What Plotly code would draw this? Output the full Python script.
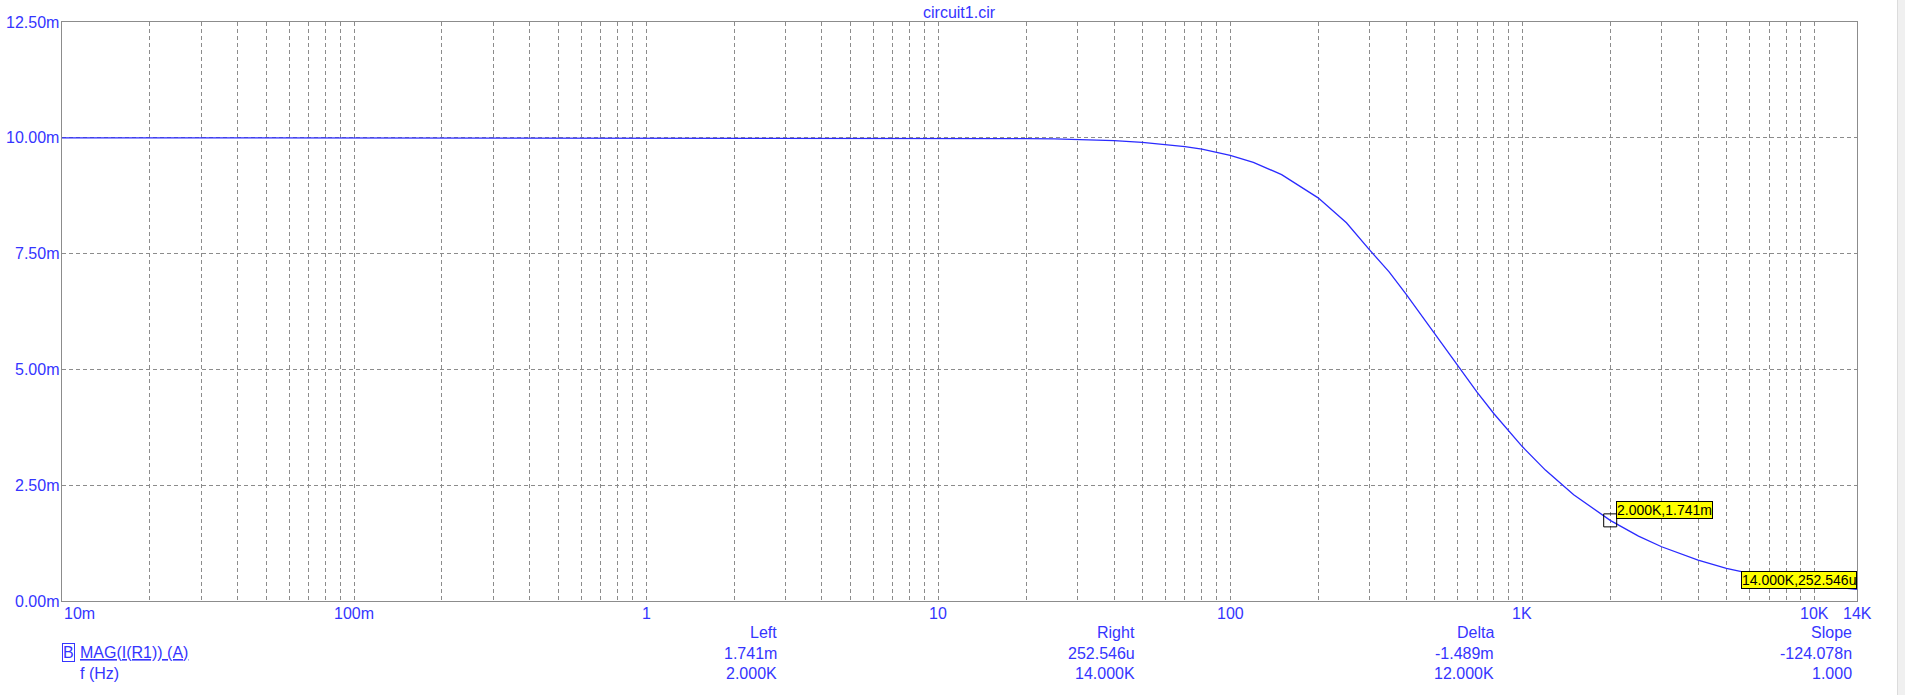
import math
import plotly.graph_objects as go

# ---------------- data ----------------
freq_hz = [0.01, 10, 20, 25, 30, 40, 50, 60, 70, 80, 100, 120, 150, 200, 250, 300,
           350, 400, 500, 600, 700, 800, 1000, 1200, 1500, 2000, 2500, 3000, 4000,
           5000, 6000, 7000, 8000, 10000, 12000, 14000]
current_a = [0.010000, 0.009996, 0.009984, 0.009975, 0.009964, 0.009937, 0.009901,
             0.009859, 0.009810, 0.009754, 0.009623, 0.009469, 0.009206, 0.008704,
             0.008165, 0.007580, 0.007107, 0.006623, 0.005775, 0.005077, 0.004508,
             0.004042, 0.003334, 0.002826, 0.002294, 0.001741, 0.001400, 0.001171,
             0.0008805, 0.0007054, 0.0005884, 0.0005045, 0.0004416, 0.0003534,
             0.0002946, 0.0002525]

x_tick_vals = [0.01, 0.1, 1, 10, 100, 1000, 10000, 14000]
x_tick_text = ["10m", "100m", "1", "10", "100", "1K", "10K", "14K"]
y_tick_vals = [0.0, 0.0025, 0.005, 0.0075, 0.01, 0.0125]
y_tick_text = ["0.00m", "2.50m", "5.00m", "7.50m", "10.00m", "12.50m"]

cursor_left = (2000, 0.001741)
cursor_right = (14000, 0.000252546)
cursor_left_label = "2.000K,1.741m"
cursor_right_label = "14.000K,252.546u"

table_headers = ["Left", "Right", "Delta", "Slope"]
table_mag = ["1.741m", "252.546u", "-1.489m", "-124.078n"]
table_freq = ["2.000K", "14.000K", "12.000K", "1.000"]
trace_name = "MAG(I(R1)) (A)"
x_name = "f (Hz)"
title_text = "circuit1.cir"

# ---------------- style ----------------
FONT = "Liberation Sans, Arial, sans-serif"
BLUE_TXT = "#3535ff"
BLUE_LINE = "#2a2aff"
GRID = "#8c8c8c"
W, H = 1905, 695
L, R, T, B = 62, 48, 22, 94
PW, PH = W - L - R, H - T - B


def px_x(px):
    return (px - L) / PW


def px_y(py):
    return (T + PH - py) / PH


fig = go.Figure()
fig.add_trace(go.Scatter(x=freq_hz, y=current_a, mode="lines",
                         line=dict(color=BLUE_LINE, width=1.3),
                         hoverinfo="skip", showlegend=False))
fig.add_trace(go.Scatter(x=[cursor_left[0]], y=[cursor_left[1]], mode="markers",
                         marker=dict(symbol="square-open", size=13, color="black",
                                     line=dict(width=1, color="black")),
                         hoverinfo="skip", showlegend=False))

ann = []
# y tick labels
for v, t in zip(y_tick_vals, y_tick_text):
    ann.append(dict(x=0, xref="paper", y=v, yref="y", text=t, showarrow=False,
                    xanchor="right", yanchor="middle", xshift=-1,
                    font=dict(family=FONT, size=16, color=BLUE_TXT)))
# x tick labels
for i, (v, t) in enumerate(zip(x_tick_vals, x_tick_text)):
    ann.append(dict(x=math.log10(v), xref="x", y=px_y(613), yref="paper", text=t,
                    showarrow=False, xanchor="left" if i == 0 else "center",
                    yanchor="middle",
                    font=dict(family=FONT, size=16, color=BLUE_TXT)))
# title
ann.append(dict(x=0.5, xref="paper", y=px_y(13), yref="paper", text=title_text,
                showarrow=False, xanchor="center", yanchor="middle",
                font=dict(family=FONT, size=16, color=BLUE_TXT)))
# cursor labels
ann.append(dict(x=math.log10(cursor_left[0]), xref="x", y=cursor_left[1], yref="y",
                text=cursor_left_label, showarrow=False, xanchor="left",
                yanchor="bottom", xshift=6, yshift=1, bgcolor="#ffff00",
                bordercolor="black", borderwidth=1, borderpad=0,
                font=dict(family=FONT, size=14, color="black")))
ann.append(dict(x=math.log10(cursor_right[0]), xref="x", y=cursor_right[1], yref="y",
                text=cursor_right_label, showarrow=False, xanchor="right",
                yanchor="bottom", bgcolor="#ffff00",
                bordercolor="black", borderwidth=1, borderpad=0,
                font=dict(family=FONT, size=14, color="black")))
# bottom table
col_right = [779, 1137, 1496, 1854]
row_y = [633, 653, 673]
for c, xr in enumerate(col_right):
    for r, txt in enumerate([table_headers[c], table_mag[c], table_freq[c]]):
        ann.append(dict(x=px_x(xr), xref="paper", y=px_y(row_y[r]), yref="paper",
                        text=txt, showarrow=False, xanchor="right", yanchor="middle",
                        font=dict(family=FONT, size=16, color=BLUE_TXT)))
# trace legend
ann.append(dict(x=px_x(68), xref="paper", y=px_y(652), yref="paper", text="B",
                showarrow=False, xanchor="center", yanchor="middle",
                bordercolor=BLUE_TXT, borderwidth=1, borderpad=0,
                font=dict(family=FONT, size=16, color=BLUE_TXT)))
ann.append(dict(x=px_x(78), xref="paper", y=px_y(652), yref="paper",
                text="<u>" + trace_name + "</u>", showarrow=False, xanchor="left",
                yanchor="middle", font=dict(family=FONT, size=16, color=BLUE_TXT)))
ann.append(dict(x=px_x(78), xref="paper", y=px_y(673), yref="paper", text=x_name,
                showarrow=False, xanchor="left", yanchor="middle",
                font=dict(family=FONT, size=16, color=BLUE_TXT)))

shapes = [dict(type="rect", xref="paper", yref="paper",
               x0=px_x(1897), x1=px_x(1905), y0=px_y(H), y1=px_y(0),
               fillcolor="#f0f0f0", line=dict(width=0), layer="above"),
          dict(type="line", xref="paper", yref="paper",
               x0=px_x(1897.5), x1=px_x(1897.5), y0=px_y(H), y1=px_y(0),
               line=dict(color="#dcdcdc", width=1), layer="above")]

fig.update_layout(
    width=W, height=H,
    margin=dict(l=L, r=R, t=T, b=B, pad=0),
    paper_bgcolor="white", plot_bgcolor="white",
    showlegend=False,
    annotations=ann, shapes=shapes,
    xaxis=dict(type="log", range=[math.log10(0.01), math.log10(14000)],
               dtick="D1", showticklabels=False, ticks="",
               showgrid=True, gridcolor=GRID, gridwidth=1, griddash="4px,3px",
               showline=True, linecolor="#8c8c8c", linewidth=1, mirror=True,
               zeroline=False),
    yaxis=dict(range=[0, 0.0125], tickvals=y_tick_vals, showticklabels=False,
               ticks="", showgrid=True, gridcolor=GRID, gridwidth=1,
               griddash="4px,3px", showline=True, linecolor="#8c8c8c",
               linewidth=1, mirror=True, zeroline=False),
)

fig.write_html("out.html", config={"displayModeBar": False},
               post_script="document.body.style.margin='0';"
                           "document.body.style.overflow='hidden';")
